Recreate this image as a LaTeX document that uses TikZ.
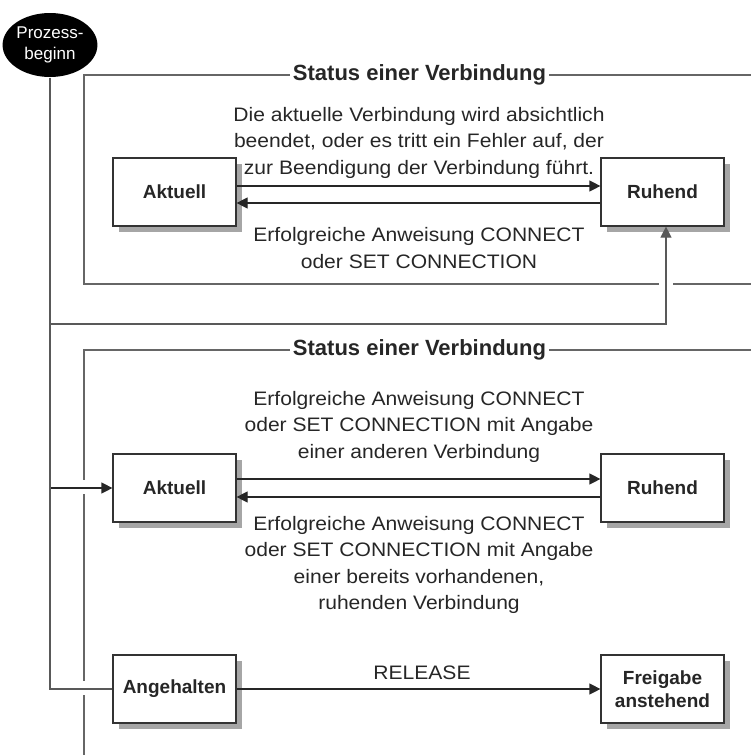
\documentclass[tikz,border=0pt]{standalone}
\usepackage{fontspec}
\setmainfont{Liberation Sans}
\newfontfamily\bodyfont[FakeStretch=1.08]{Liberation Sans}
\usetikzlibrary{arrows.meta,shapes.geometric}

\begin{document}
\begin{tikzpicture}[
  x=1pt, y=-1pt,
  line width=1.2pt,
  statebox/.style = {draw=black!80, fill=white, minimum width=123pt, minimum height=68pt, align=center,
    font=\fontsize{19}{23}\selectfont\bfseries, text=black!85},
  proc/.style = {ellipse, fill=black, minimum width=88pt, minimum height=64pt, inner sep=0pt,
    align=center, text=white, font=\fontsize{17}{21}\selectfont},
  frametitle/.style = {fill=white, inner xsep=3pt, inner ysep=1pt, text=black!85,
    font=\fontsize{22}{26}\selectfont\bfseries},
  note/.style = {align=center, text=black!85, font=\bodyfont\fontsize{19.5}{26.5}\selectfont},
  framebox/.style = {draw=black!60},
  conn/.style = {draw=black!65},
  shade/.style = {fill=black!35},
  arr/.style = {-{Triangle[length=11pt,width=11pt]}, draw=black!85}
]
  \useasboundingbox (0,0) rectangle (751,755);

  % frames, open to the right
  \draw[framebox] (751,75) -- (84,75) -- (84,284) -- (751,284);
  \draw[framebox] (751,350) -- (84,350) -- (84,755);
  \fill[white] (659,279) rectangle (673,289);
  \fill[white] (79,480) rectangle (89,494);
  \fill[white] (79,681) rectangle (89,695);
  \node[frametitle] (title1) at (419.5,75) {Status einer Verbindung};
  \node[frametitle] (title2) at (419.5,350) {Status einer Verbindung};

  % shadows of the state boxes
  \foreach \cx/\cy in {174.5/192, 662.5/192, 174.5/488, 662.5/488, 174.5/689, 662.5/689}
    \fill[shade] (\cx-56,\cy-28) rectangle (\cx+67,\cy+40);

  % states
  \node[proc] (start) at (50,45) {Prozess-\\beginn};
  \node[statebox] (akt1) at (174.5,192) {Aktuell};
  \node[statebox] (ruh1) at (662.5,192) {Ruhend};
  \node[statebox] (akt2) at (174.5,488) {Aktuell};
  \node[statebox] (ruh2) at (662.5,488) {Ruhend};
  \node[statebox] (ang) at (174.5,689) {Angehalten};
  \node[statebox] (frei) at (662.5,689) {Freigabe\\anstehend};

  % transitions
  \draw[arr] ([yshift=6pt]akt1.east) -- ([yshift=6pt]ruh1.west);
  \draw[arr] ([yshift=-11pt]ruh1.west) -- ([yshift=-11pt]akt1.east);
  \draw[arr] ([yshift=9pt]akt2.east) -- ([yshift=9pt]ruh2.west);
  \draw[arr] ([yshift=-9pt]ruh2.west) -- ([yshift=-9pt]akt2.east);
  \draw[arr] (ang) -- (frei);

  % from process start
  \coordinate (split) at (start.south |- 0,324);
  \draw[arr, draw=black!65] (split) -| ([xshift=3.5pt]ruh1.south);
  \draw[arr] (start.south |- akt2.west) -- (akt2.west);
  \draw[conn] (start.south) |- (ang.west);

  % texts
  \node[note] (txt1) at (419,142.5) {Die aktuelle Verbindung wird absichtlich\\beendet, oder es tritt ein Fehler auf, der\\zur Beendigung der Verbindung führt.};
  \node[note] (txt2) at (419,248) {Erfolgreiche Anweisung CONNECT\\oder SET CONNECTION};
  \node[note] (txt3) at (419,426.5) {Erfolgreiche Anweisung CONNECT\\oder SET CONNECTION mit Angabe\\einer anderen Verbindung};
  \node[note] (txt4) at (419,565) {Erfolgreiche Anweisung CONNECT\\oder SET CONNECTION mit Angabe\\einer bereits vorhandenen,\\ruhenden Verbindung};
  \node[note] (rel) at (422,673) {RELEASE};
\end{tikzpicture}
\end{document}
